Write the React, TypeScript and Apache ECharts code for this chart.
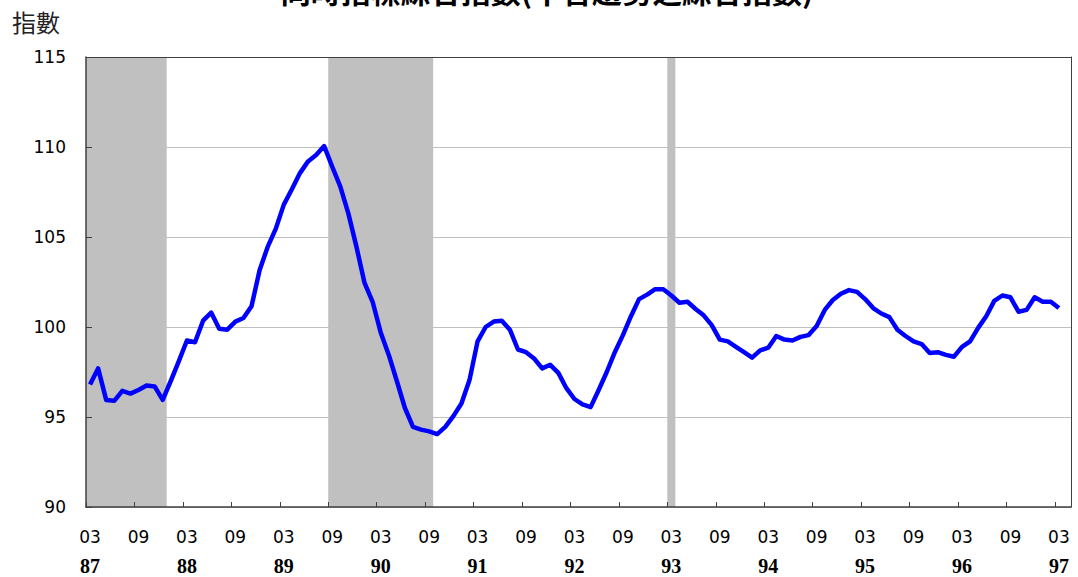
import React, { useEffect, useRef } from "react";
import * as echarts from "echarts";

// ---- data ----
const TITLE = "同時指標綜合指數(不含趨勢之綜合指數)";
const Y_NAME = "指數";
const DATA_START = { year: 87, month: 3 };
const VALUES = [
  96.8, 97.7, 95.95, 95.9, 96.45, 96.3, 96.5, 96.75, 96.7, 95.95,
  97.0, 98.1, 99.25, 99.15, 100.35, 100.8, 99.9, 99.85, 100.3, 100.5,
  101.15, 103.15, 104.45, 105.45, 106.8, 107.65, 108.55, 109.2, 109.55, 110.05,
  108.9, 107.8, 106.3, 104.45, 102.45, 101.4, 99.7, 98.45, 97.0, 95.5,
  94.45, 94.3, 94.2, 94.05, 94.45, 95.05, 95.75, 97.05, 99.2, 100.0,
  100.3, 100.35, 99.85, 98.75, 98.6, 98.25, 97.7, 97.9, 97.45, 96.6,
  96.0, 95.7, 95.55, 96.5, 97.5, 98.6, 99.55, 100.6, 101.55, 101.8,
  102.1, 102.1, 101.75, 101.35, 101.4, 101.0, 100.65, 100.1, 99.3, 99.2,
  98.9, 98.6, 98.3, 98.7, 98.85, 99.5, 99.3, 99.25, 99.45, 99.55,
  100.05, 100.95, 101.5, 101.85, 102.05, 101.95, 101.55, 101.05, 100.75, 100.55,
  99.85, 99.5, 99.2, 99.05, 98.55, 98.6, 98.45, 98.35, 98.9, 99.2,
  99.95, 100.6, 101.45, 101.75, 101.65, 100.85, 100.95, 101.65, 101.4, 101.4,
  101.05,
];
const AXIS_START = { year: 87, month: 3 };
const AXIS_COUNT = 122;
const RECESSIONS: [string, string][] = [
  ["87/03", "87/12"],
  ["89/09", "90/09"],
  ["93/03", "93/03"],
];
const Y_MIN = 90;
const Y_MAX = 115;
const Y_STEP = 5;

const pad = (n: number) => String(n).padStart(2, "0");
const monthLabel = (start: { year: number; month: number }, i: number) => {
  const t = start.month - 1 + i;
  return `${pad(start.year + Math.floor(t / 12))}/${pad((t % 12) + 1)}`;
};
const AXIS_MONTHS = Array.from({ length: AXIS_COUNT }, (_, i) => monthLabel(AXIS_START, i));
const DATA_MONTHS = VALUES.map((_, i) => monthLabel(DATA_START, i));
const monthIndex = (lbl: string) => {
  const [y, m] = lbl.split("/").map(Number);
  return (y - AXIS_START.year) * 12 + (m - AXIS_START.month);
};

const AXIS_COLOR = "#404040";

export default function App() {
  const ref = useRef<HTMLDivElement>(null);
  useEffect(() => {
    if (!ref.current) return;
    const chart = echarts.init(ref.current, null, { renderer: "svg" });
    const yBase = { type: "value", min: Y_MIN, max: Y_MAX, interval: Y_STEP };
    chart.setOption({
      animation: false,
      backgroundColor: "#ffffff",
      grid: { left: 86, top: 57, width: 985, height: 450, containLabel: false },
      graphic: [
        {
          type: "text",
          x: 547,
          y: -25,
          style: {
            text: TITLE,
            fontSize: 30,
            fontWeight: "bold",
            fontFamily: "Noto Sans CJK TC",
            fill: "#000",
            align: "center",
            verticalAlign: "top",
          },
        },
        {
          type: "text",
          x: 12,
          y: 9,
          style: {
            text: Y_NAME,
            fontSize: 24,
            fontFamily: "Noto Sans CJK TC",
            fill: "#222",
            align: "left",
            verticalAlign: "top",
          },
        },
      ],
      xAxis: [
        {
          type: "category",
          data: AXIS_MONTHS,
          boundaryGap: true,
          position: "bottom",
          z: 10,
          axisLine: { show: true, lineStyle: { color: AXIS_COLOR, width: 1.5 } },
          axisTick: { show: true, inside: true, length: 5, interval: 5, lineStyle: { color: AXIS_COLOR } },
          splitLine: { show: false },
          axisLabel: {
            interval: 5,
            margin: 16,
            formatter: (v: string) => {
              const [yy, mm] = v.split("/");
              return mm === "03" ? `{m|${mm}}\n{y|${yy}}` : `{m|${mm}}`;
            },
            rich: {
              m: { fontFamily: "DejaVu Sans", fontSize: 17, lineHeight: 28, color: "#000" },
              y: {
                fontFamily: "Liberation Serif",
                fontWeight: "bold",
                fontSize: 20,
                lineHeight: 30,
                color: "#000",
              },
            },
          },
        },
        {
          type: "value",
          min: -0.5,
          max: AXIS_COUNT - 0.5,
          position: "top",
          z: 10,
          axisLine: { show: true, lineStyle: { color: AXIS_COLOR, width: 1 } },
          axisTick: { show: false },
          axisLabel: { show: false },
          splitLine: { show: false },
        },
      ],
      yAxis: [
        {
          ...yBase,
          position: "left",
          z: 0,
          axisLine: { show: false },
          axisTick: { show: false },
          axisLabel: { show: false },
          splitLine: { show: true, lineStyle: { color: "#c0c0c0", width: 1 } },
        },
        {
          ...yBase,
          position: "left",
          z: 10,
          axisLine: { show: true, lineStyle: { color: AXIS_COLOR, width: 1.5 } },
          axisTick: { show: true, inside: true, length: 6, lineStyle: { color: AXIS_COLOR } },
          axisLabel: { margin: 20, fontFamily: "DejaVu Sans", fontSize: 17, color: "#000" },
          splitLine: { show: false },
        },
        {
          ...yBase,
          position: "right",
          z: 10,
          axisLine: { show: true, lineStyle: { color: AXIS_COLOR, width: 1 } },
          axisTick: { show: false },
          axisLabel: { show: false },
          splitLine: { show: false },
        },
      ],
      series: [
        {
          type: "line",
          xAxisIndex: 1,
          yAxisIndex: 1,
          data: DATA_MONTHS.map((m, i) => [monthIndex(m), VALUES[i]]),
          symbol: "none",
          clip: true,
          lineStyle: { color: "#0000ff", width: 4.5, join: "round" },
          markArea: {
            silent: true,
            itemStyle: { color: "#c0c0c0", opacity: 1 },
            data: RECESSIONS.map(([a, b]) => [
              { xAxis: monthIndex(a) - 0.5 },
              { xAxis: monthIndex(b) + 0.5 },
            ]),
          },
        },
      ],
    });
    return () => chart.dispose();
  }, []);
  return (
    <div
      ref={ref}
      style={{ position: "fixed", left: 0, top: 0, width: 1078, height: 577 }}
    />
  );
}
